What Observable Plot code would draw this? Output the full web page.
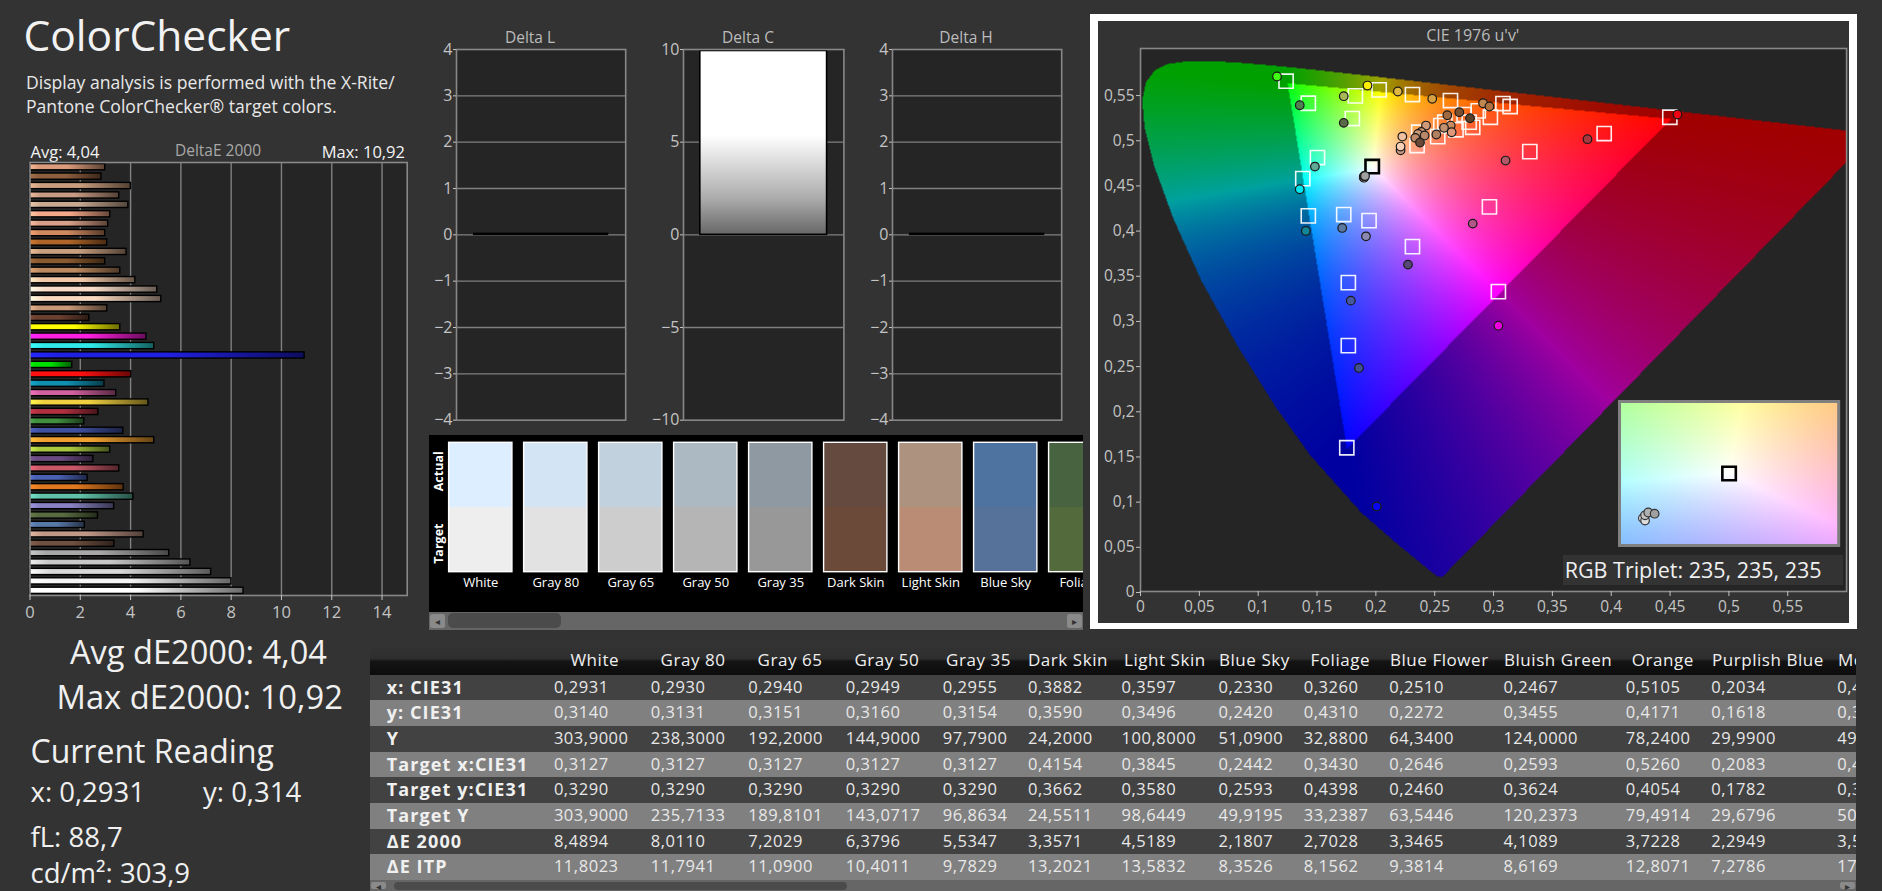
<!DOCTYPE html>
<html><head><meta charset="utf-8">
<style>
html,body{margin:0;padding:0;background:#333;}
#root{position:relative;width:1882px;height:891px;overflow:hidden;background:#333;font-family:"Open Sans",sans-serif;}
.t{position:absolute;line-height:0;white-space:nowrap;}
.box{position:absolute;}
svg{display:block}
</style>
<script src="https://cdn.jsdelivr.net/npm/d3@7"></script>
<script src="https://cdn.jsdelivr.net/npm/@observablehq/plot@0.6"></script>
</head><body><div id="root"></div>
<script>
// ---------- DeltaE 2000 bars (top to bottom) ----------
const barValues = [2.99,2.84,4.01,3.55,3.91,3.19,3.11,2.99,3.07,3.84,2.99,3.59,4.19,5.06,5.22,3.07,2.36,3.59,4.63,4.94,10.92,1.68,4.03,2.96,3.43,4.71,2.72,2.16,3.71,4.94,3.19,2.52,3.55,2.2949,3.7228,4.1089,3.3465,2.7028,2.1807,4.5189,3.3571,5.5347,6.3796,7.2029,8.0110,8.4894];
const barColors = ["#dc9c7c","#8e5f3f","#c89c7c","#c89c84","#c8a890","#f5a88a","#d8a088","#d08a60","#b0662a","#c8a080","#8a5a30","#bc8a60","#f0c8a8","#f8dcc8","#f8d8c0","#c89878","#6a4030","#ffff00","#ff20e0","#30e8e8","#2020e0","#00e000","#ff1010","#1090b0","#d060a0","#f0d040","#b03040","#409040","#4050a0","#f0a030","#a8c840","#6a4a80","#c85868","#4a60b0","#e07820","#60c0a8","#8880c0","#586a40","#5878a8","#c09888","#705040","#a8a8a8","#c8c8c8","#d8d8d8","#f4f4f4","#ffffff"];
const barTicks = [0,2,4,6,8,10,12,14];
// ---------- Delta L/C/H ----------
const deltaL = [0.02], deltaC = [9.92], deltaH = [0.02];
const deltaLTicks = [-4,-3,-2,-1,0,1,2,3,4];
const deltaCTicks = [-10,-5,0,5,10];
// ---------- swatches ----------
const swatchNames = ["White","Gray 80","Gray 65","Gray 50","Gray 35","Dark Skin","Light Skin","Blue Sky","Foliage"];
const swatchActual = ["#dceeff","#d3e4f4","#c1d1de","#acb9c3","#8e99a1","#654a3f","#ae9280","#4f73a0","#476340"];
const swatchTarget = ["#eeeeee","#e2e2e2","#cdcdcd","#b5b5b5","#989898","#6c4a3a","#ba8c76","#56729a","#526a3c"];
// ---------- CIE 1976 ----------
const locusX = [.1741,.1733,.1714,.1689,.1644,.1566,.1440,.1241,.1096,.0913,.0687,.0454,.0235,.0082,.0039,.0139,.0389,.0743,.1142,.1547,.1929,.2296,.3016,.3731,.4441,.5125,.5752,.6270,.6915,.7260,.7347];
const locusY = [.0050,.0048,.0051,.0069,.0109,.0177,.0297,.0578,.0868,.1327,.2007,.2950,.4127,.5384,.6548,.7502,.8120,.8338,.8262,.8059,.7816,.7543,.6923,.6245,.5547,.4866,.4242,.3725,.3083,.2740,.2653];
const uTicks = [0,.05,.1,.15,.2,.25,.3,.35,.4,.45,.5,.55];
const vTicks = [0,.05,.1,.15,.2,.25,.3,.35,.4,.45,.5,.55];
const uTarget = [.1237,.1426,.1826,.2028,.2311,.2634,.1800,.3080,.3141,.2870,.2750,.2973,.2793,.2823,.2586,.2681,.2526,.2364,.2350,.2552,.4498,.3940,.3308,.1504,.1379,.1426,.1727,.1942,.2311,.2965,.3041,.1766,.1766,.1753];
const vTarget = [.5648,.5404,.5486,.5552,.5500,.5434,.5235,.5401,.5368,.5320,.5279,.5249,.5194,.5138,.5194,.5110,.5035,.5083,.4936,.5157,.5249,.5069,.4869,.4803,.4570,.4157,.4172,.4105,.3817,.4257,.3319,.3419,.2721,.1591];
const uWhiteTarget = [.1969], vWhiteTarget = [.4703];
const uActual = [.1160,.1929,.2187,.2479,.1727,.1353,.1727,.2911,.2965,.2709,.2607,.2800,.3798,.4563,.3102,.1482,.1353,.1405,.1714,.1916,.2273,.2823,.1787,.3041,.1856,.2007,.2426,.2636,.2579,.2644,.2514,.2386,.2358,.2414,.2335,.2375,.2225,.2210,.2210];
const vActual = [.5700,.5600,.5534,.5453,.5482,.5382,.5187,.5404,.5368,.5305,.5271,.5238,.5006,.5279,.4770,.4703,.4452,.3991,.4024,.3931,.3618,.4072,.3219,.2942,.2474,.0941,.5157,.5157,.5132,.5083,.5058,.5087,.5065,.5047,.5021,.4969,.5035,.4884,.4925];
const colorActual = ["#40ff10","#ffee00","#e0b840","#d8a040","#a8b858","#4f8050","#5a6a48","#c08850","#b07040","#7a5030","#a06840","#5a4028","#a83840","#f00010","#b05868","#60a898","#00e8f0","#108898","#5a78a0","#8a88b0","#584878","#b05888","#4858a0","#f000e0","#405090","#0808f0","#d09a78","#c88a60","#c09070","#e09878","#b08060","#d09a78","#c89878","#b88868","#c08a68","#6a4838","#f0c0a0","#c89880","#f8d0b8"];
const uGray = [.1897,.1899,.1899,.1902,.1908];
const vGray = [.4585,.4580,.4595,.4600,.4598];
const colorGray = ["#f4f4f4","#dcdcdc","#c4c4c4","#b0b0b0","#a0a0a0"];
const uInset = [.1897,.1899,.1899,.1902,.1908], vInset = [.4572,.4566,.4579,.4586,.4583];
// ---------- table ----------
const tableCols = ["White","Gray 80","Gray 65","Gray 50","Gray 35","Dark Skin","Light Skin","Blue Sky","Foliage","Blue Flower","Bluish Green","Orange","Purplish Blue","Moderate Red"];
const tableLabels = ["x: CIE31","y: CIE31","Y","Target x:CIE31","Target y:CIE31","Target Y","ΔE 2000","ΔE ITP"];
const rowX  = ["0,2931","0,2930","0,2940","0,2949","0,2955","0,3882","0,3597","0,2330","0,3260","0,2510","0,2467","0,5105","0,2034","0,4556"];
const rowY  = ["0,3140","0,3131","0,3151","0,3160","0,3154","0,3590","0,3496","0,2420","0,4310","0,2272","0,3455","0,4171","0,1618","0,3011"];
const rowL  = ["303,9000","238,3000","192,2000","144,9000","97,7900","24,2000","100,8000","51,0900","32,8800","64,3400","124,0000","78,2400","29,9900","49,2300"];
const rowTX = ["0,3127","0,3127","0,3127","0,3127","0,3127","0,4154","0,3845","0,2442","0,3430","0,2646","0,2593","0,5260","0,2083","0,4532"];
const rowTY = ["0,3290","0,3290","0,3290","0,3290","0,3290","0,3662","0,3580","0,2593","0,4398","0,2460","0,3624","0,4054","0,1782","0,3130"];
const rowTL = ["303,9000","235,7133","189,8101","143,0717","96,8634","24,5511","98,6449","49,9195","33,2387","63,5446","120,2373","79,4914","29,6796","50,1200"];
const rowDE = ["8,4894","8,0110","7,2029","6,3796","5,5347","3,3571","4,5189","2,1807","2,7028","3,3465","4,1089","3,7228","2,2949","3,5500"];
const rowIT = ["11,8023","11,7941","11,0900","10,4011","9,7829","13,2021","13,5832","8,3526","8,1562","9,3814","8,6169","12,8071","7,2786","17,2000"];
const tableRows = [rowX,rowY,rowL,rowTX,rowTY,rowTL,rowDE,rowIT];

// ---------- layout helpers ----------
const root = document.getElementById("root");
const FONT = '"Open Sans",sans-serif';
const comma = d => String(d).replace(".", ",");
const baseStyle = {background:"transparent",maxWidth:"none",overflow:"visible",fontFamily:FONT};
function place(el,left,top,parent=root){el.style.position="absolute";el.style.left=left+"px";el.style.top=top+"px";parent.append(el);return el;}
function text(str,x,base,size,color="#f0f0f0",opts={}){
  const d=document.createElement("div");d.className="t";d.textContent=str;
  d.style.left=x+"px";d.style.top=(base-0.388*size)+"px";d.style.fontSize=size+"px";d.style.color=color;
  if(opts.anchor==="middle")d.style.transform="translateX(-50%)";
  if(opts.anchor==="end")d.style.transform="translateX(-100%)";
  if(opts.weight)d.style.fontWeight=opts.weight;
  if(opts.spacing)d.style.letterSpacing=opts.spacing+"px";
  (opts.parent||root).append(d);return d;
}
function box(x,y,w,h,bg,parent=root,extra=""){
  const d=document.createElement("div");d.className="box";
  d.style.cssText=`left:${x}px;top:${y}px;width:${w}px;height:${h}px;background:${bg};${extra}`;
  parent.append(d);return d;
}
function defsMark(build){
  return () => {
    const ns="http://www.w3.org/2000/svg";
    const g=document.createElementNS(ns,"defs");
    const add=(id,stops,vertical)=>{
      const lg=document.createElementNS(ns,"linearGradient");lg.setAttribute("id",id);
      if(vertical){lg.setAttribute("x1","0");lg.setAttribute("x2","0");lg.setAttribute("y1","0");lg.setAttribute("y2","1");}
      for(const [o,c] of stops){const s=document.createElementNS(ns,"stop");s.setAttribute("offset",o);s.setAttribute("stop-color",c);lg.append(s);}
      g.append(lg);
    };
    build(add);return g;
  };
}

// ---------- left texts ----------
text("ColorChecker",23.5,51.5,42.5,"#f2f2f2",{weight:400});
text("Display analysis is performed with the X-Rite/",26,89,17.6,"#e8e8e8");
text("Pantone ColorChecker® target colors.",26,112.7,17.6,"#e8e8e8");
text("Avg: 4,04",30.5,158,16.5,"#f4f4f4");
text("DeltaE 2000",218,156.5,15.5,"#a8a8a8",{anchor:"middle"});
text("Max: 10,92",405,158,16.5,"#f4f4f4",{anchor:"end"});
text("Avg dE2000: 4,04",70,665,32.6,"#f0f0f0");
text("Max dE2000: 10,92",56.5,710,32.7,"#f0f0f0");
text("Current Reading",30.5,763.5,32,"#f0f0f0");
text("x: 0,2931",30.5,802.5,27.5,"#f0f0f0");
text("y: 0,314",203,802.5,27.5,"#f0f0f0");
text("fL: 88,7",30.5,848,27.5,"#f0f0f0");
text("cd/m²: 303,9",30.5,884,27.5,"#f0f0f0");

// ---------- DeltaE 2000 bars ----------
{
  const mL=29.5, mT=4, W=420, H=4+433+30;
  const p=Plot.plot({width:W,height:H,marginLeft:mL,marginRight:W-406.7,marginTop:mT,marginBottom:30,style:baseStyle,
    x:{domain:[0,15],label:null},
    y:{type:"band",domain:d3.range(barValues.length),axis:null,paddingInner:.34,paddingOuter:.17,round:false},
    color:{type:"identity"},
    marks:[
      defsMark(add=>barColors.forEach((c,i)=>{const rc=d3.rgb(c);
        add("deBar"+i,[[0,rc.brighter(.5).formatHex()],[.12,c],[.5,c],[1,d3.rgb(rc.r*.42,rc.g*.42,rc.b*.42).formatHex()]]);})),
      Plot.frame({fill:"#252525"}),
      Plot.ruleX([2,4,6,8,10,12,14],{stroke:"#808080",strokeWidth:1.4}),
      Plot.barX(barValues,{x:d=>d,y:(d,i)=>i,fill:(d,i)=>`url(#deBar${i})`,stroke:"#000",strokeWidth:1.4}),
      Plot.frame({stroke:"#888",strokeWidth:1.6}),
      Plot.axisX({ticks:barTicks,tickSize:5,tickPadding:6,fontSize:16.5,color:"#c4c4c4",label:null})
    ]});
  place(p,0,162-mT);
}

// ---------- Delta charts ----------
function deltaChart(title,values,domain,ticks,gridTicks,left,right,titleX,barFill){
  const mL=32,mT=6,mB=8,W=right-left+mL+4,H=419.7-49+mT+mB;
  const p=Plot.plot({width:W,height:H,marginLeft:mL,marginRight:4,marginTop:mT,marginBottom:mB,style:baseStyle,
    x:{type:"band",domain:[title],axis:null,padding:.117,round:false},
    y:{domain,label:null},
    marks:[
      defsMark(add=>add("deltaFade",[[0,"#ffffff"],[.46,"#ffffff"],[.8,"#adadad"],[1,"#676767"]],true)),
      Plot.frame({fill:"#252525"}),
      Plot.ruleY(gridTicks,{stroke:"#808080",strokeWidth:1.3}),
      Plot.barY(values,{x:()=>title,y:d=>d,fill:barFill,stroke:"#000",strokeWidth:1.6}),
      Plot.frame({stroke:"#888",strokeWidth:1.6}),
      Plot.axisY({ticks,tickSize:3,tickPadding:1,fontSize:16,color:"#c4c4c4",label:null,dy:0})
    ]});
  place(p,left-mL,49-mT);
  text(title,titleX,43,15.5,"#bcbcbc",{anchor:"middle"});
}
deltaChart("Delta L",deltaL,[-4,4],deltaLTicks,deltaLTicks.slice(1,-1),455.8,625,530,"#000");
deltaChart("Delta C",deltaC,[-10,10],deltaCTicks,deltaCTicks.slice(1,-1),682.6,843,748,"url(#deltaFade)");
deltaChart("Delta H",deltaH,[-4,4],deltaLTicks,deltaLTicks.slice(1,-1),891.8,1061,966,"#000");

// ---------- swatch strip ----------
{
  const panel=box(429,435,653.6,176.7,"#000",root,"overflow:hidden");
  const p=Plot.plot({width:700,height:176.7,marginLeft:0,marginRight:0,marginTop:7.3,marginBottom:40,style:baseStyle,
    x:{type:"band",domain:swatchNames,range:[19.6,19.6+9*75-11.7],paddingInner:.156,paddingOuter:0,align:0,label:null,axis:null,round:false},
    y:{domain:[0,2],range:[136.7,7.3],axis:null},
    color:{type:"identity"},
    marks:[
      Plot.barY(swatchNames,{x:d=>d,y1:1,y2:2,fill:(d,i)=>swatchActual[i]}),
      Plot.barY(swatchNames,{x:d=>d,y1:0,y2:1,fill:(d,i)=>swatchTarget[i]}),
      Plot.barY(swatchNames,{x:d=>d,y1:0,y2:2,fill:"none",stroke:"#fff",strokeWidth:1.4}),
      Plot.axisX({tickSize:0,tickPadding:6,fontSize:13,color:"#fff",label:null}),
      Plot.text(["Actual","Target"],{y:d=>d==="Actual"?1.56:.44,frameAnchor:"left",textAnchor:"middle",text:d=>d,rotate:-90,dx:9,fill:"#fff",fontWeight:700,fontSize:12.5})
    ]});
  place(p,0,0,panel);
}
function scrollbar(x,y,w,h,tx0,tx1){
  box(x,y,w,h,"#666");
  box(tx0,y+1.5,tx1-tx0,h-3,"#4b4b4b",root,"border-radius:5px");
  box(x+1,y+2,15,h-4,"#8a8a8a",root,"border-radius:2px");
  box(x+w-16,y+2,15,h-4,"#8a8a8a",root,"border-radius:2px");
  text("◂",x+8.5,y+h/2+4,10,"#333",{anchor:"middle"});
  text("▸",x+w-8.5,y+h/2+4,10,"#333",{anchor:"middle"});
}
scrollbar(429,611.7,653.6,18,448,561);

// ---------- CIE 1976 panel ----------
box(1090,14,766.7,615.3,"#fff");
box(1097.6,21,751.4,601.7,"#333");
text("CIE 1976 u'v'",1472.8,41.5,16,"#bcbcbc",{anchor:"middle"});

const locus = locusX.map((x,i)=>{const y=locusY[i],d=-2*x+12*y+3;return [4*x/d,9*y/d];});
function chroma(u,v){
  const d=6*u-16*v+12,x=9*u/d,y=4*v/d,X=x/y,Z=(1-x-y)/y;
  let r=3.2406*X-1.5372-.4986*Z,g=-.9689*X+1.8758+.0415*Z,b=.0557*X-.2040+1.0570*Z;
  const inside=r>=0&&g>=0&&b>=0;
  r=Math.max(r,0);g=Math.max(g,0);b=Math.max(b,0);
  const m=Math.max(r,g,b),k=inside?255:160,e=inside?.8:1;
  return `rgb(${k*Math.pow(r/m,e)|0},${k*Math.pow(g/m,e)|0},${k*Math.pow(b/m,e)|0})`;
}
{
  const left=1139.5,right=1845.6,top=47.7,bottom=590.7;
  const mL=44,mT=3,mB=32,mR=3;
  const W=right-left+mL+mR,H=bottom-top+mT+mB;
  const p=Plot.plot({width:W,height:H,marginLeft:mL,marginRight:mR,marginTop:mT,marginBottom:mB,style:baseStyle,
    x:{domain:[0,.6],label:null},
    y:{domain:[0,.601],label:null},
    color:{type:"identity"},
    marks:[
      Plot.frame({fill:"#252525"}),
      Plot.raster({x1:0,x2:.6,y1:0,y2:.601,pixelSize:1,fill:(u,v)=>d3.polygonContains(locus,[u,v])?chroma(u,v):null}),
      Plot.dot(uTarget,{x:d=>d,y:(d,i)=>vTarget[i],symbol:"square",r:8,fill:"none",stroke:"#fff",strokeWidth:1.6,strokeOpacity:.92}),
      Plot.dot(uWhiteTarget,{x:d=>d,y:(d,i)=>vWhiteTarget[i],symbol:"square",r:7.6,fill:"none",stroke:"#000",strokeWidth:2.6}),
      Plot.dot(uActual,{x:d=>d,y:(d,i)=>vActual[i],r:4.3,fill:(d,i)=>colorActual[i],stroke:"#1a1a1a",strokeWidth:1.2}),
      Plot.dot(uGray,{x:d=>d,y:(d,i)=>vGray[i],r:4.3,fill:(d,i)=>colorGray[i],stroke:"#1a1a1a",strokeWidth:1.2}),
      Plot.frame({stroke:"#888",strokeWidth:1.6}),
      Plot.axisX({ticks:uTicks,tickFormat:comma,tickSize:5,tickPadding:4,fontSize:15.5,color:"#c4c4c4",label:null}),
      Plot.axisY({ticks:vTicks,tickFormat:comma,tickSize:4,tickPadding:2,fontSize:15.5,color:"#c4c4c4",label:null,dy:1})
    ]});
  place(p,left-mL,top-mT);
}
// inset magnifier around the white target
{
  const u0=.1978,v0=.4683,du=.0103,dv=.0179,amp=1.8;
  const W=219.2,H=144;
  const p=Plot.plot({width:W,height:H,margin:0,style:baseStyle,
    x:{domain:[u0-du,u0+du],axis:null},
    y:{domain:[v0-dv,v0+dv],axis:null},
    color:{type:"identity"},
    marks:[
      Plot.raster({x1:u0-du,x2:u0+du,y1:v0-dv,y2:v0+dv,pixelSize:1,fill:(u,v)=>chroma(u0+(u-u0)*amp,v0+(v-v0)*amp)}),
      Plot.dot([u0],{x:d=>d,y:()=>v0,symbol:"square",r:7.6,fill:"none",stroke:"#000",strokeWidth:2.6}),
      Plot.dot(uInset,{x:d=>d,y:(d,i)=>vInset[i],r:4.3,fill:(d,i)=>colorGray[i],stroke:"#333",strokeWidth:1.2}),
      Plot.frame({stroke:"#808080",strokeWidth:3})
    ]});
  place(p,1619.3,400.7);
}
box(1563,555,279.5,30,"#333");
text("RGB Triplet: 235, 235, 235",1564.7,578,21.5,"#f0f0f0");

// ---------- table ----------
{
  const tableLeft=369.7,tableRight=1856,width=tableRight-tableLeft;
  const t=box(tableLeft,645,width,246,"#333",root,"overflow:hidden;");
  const hdr=box(0,0,width,30,"linear-gradient(#333 0%,#2e2e2e 45%,#141414 55%,#0c0c0c 100%)",t);
  const rowTop=[30,55,81,107,132,158,184,209,235];
  const colX=[553.9,650.8,748.3,845.7,942.7,1028,1121.5,1218.6,1303.7,1389.2,1503.4,1625.8,1711.3,1837.2];
  const headX=[570.4,660.5,757.5,854.4,946,1028,1124,1219,1310.5,1390,1504,1631.7,1712,1838];
  tableCols.forEach((c,i)=>text(c,headX[i]-tableLeft,21.5,17,"#f0f0f0",{parent:t,spacing:.55}));
  tableRows.forEach((row,r)=>{
    box(0,rowTop[r],width,rowTop[r+1]-rowTop[r],r%2?"#808080":"#424242",t);
    const base=rowTop[r]+18.5;
    text(tableLabels[r],17,base,18,"#f0f0f0",{weight:700,parent:t,spacing:1.1});
    row.forEach((v,i)=>text(v,colX[i]-tableLeft,base,16.5,"#e8e8e8",{parent:t,spacing:.55}));
  });
}
scrollbar(369.7,880,1486.3,11,394,847);
</script></body></html>
